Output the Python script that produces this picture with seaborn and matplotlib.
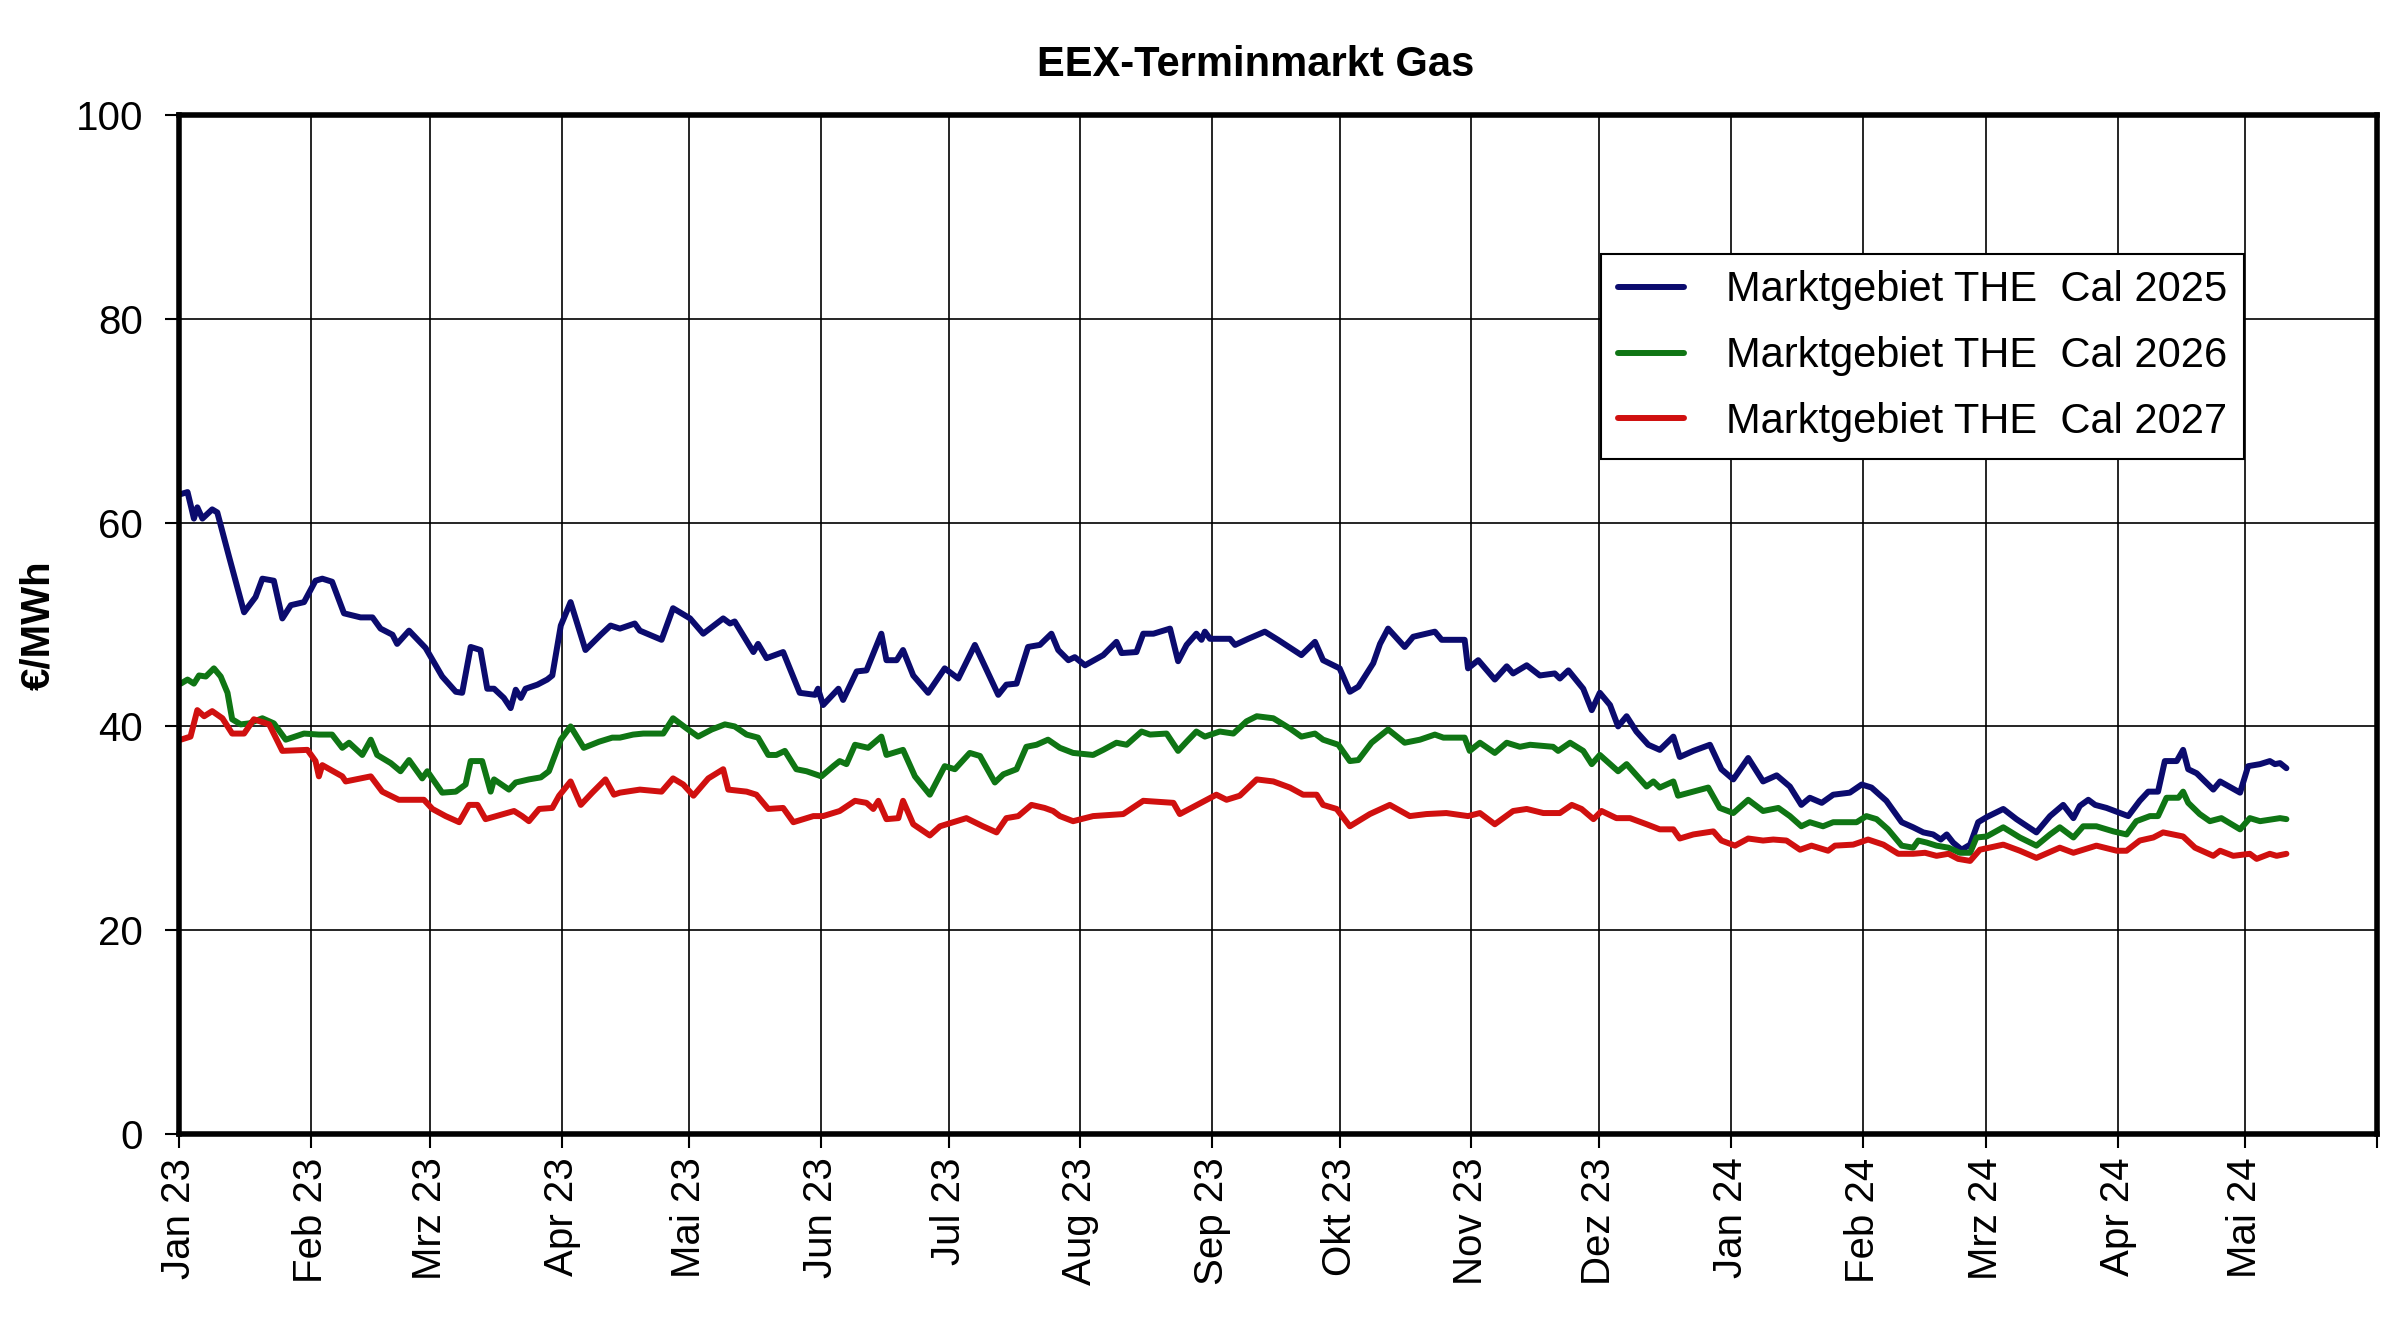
import pandas as pd
import matplotlib.pyplot as plt
import seaborn as sns

# Tage nach dem 01.01.2023 und Preise in EUR/MWh
cal2025_days = [0.4, 2, 3.5, 4.3, 5.5, 7.8, 9, 11.8, 15.3, 18,
                19.6, 22.3, 24.3, 26.3, 29.4, 32.1, 33.7, 36, 38.8, 42.7,
                45.5, 47.4, 50.2, 51.3, 54.1, 58, 61.9, 65.1, 66.6, 68.6,
                70.9, 72.5, 74.1, 76.4, 78, 79.2, 80.4, 81.5, 84.3, 86.6,
                87.8, 89.8, 92.1, 95.6, 99.2, 101.5,
                103.7, 107.2, 108.4, 113.5, 116.2, 120.2, 123.3, 128, 129.6, 130.7,
                135.1, 136.2, 138.2, 142.1, 146, 149.6, 150.3, 151.5, 155.1, 156.2,
                159.4, 161.7, 165.2, 166.4, 168.8, 170.3, 172.7, 176.2, 180.1, 183.3,
                187.2, 192.7, 194.6, 197, 199.7, 202.5, 205.2, 206.8,
                209.2, 210.7, 213.1, 217.4, 220.5, 221.7, 225.2, 226.8, 229.2, 233.1,
                235, 237, 239.3, 240.5, 241.3, 242.5, 247.2, 248.4, 251.5, 255.4,
                258.5, 264, 267.2, 269.1, 273, 275.4, 277.4, 280.9, 282.5, 284.4,
                288.3, 290.3, 295.4, 297, 302.4, 303.2, 305.6, 309.5,
                312.3, 313.8, 317, 320.1, 323.6, 324.8, 326.8, 330.3, 332.3, 334.2,
                336.6, 338.5, 340.5, 342.8, 345.6, 348.3, 351.5, 353, 356.2, 360.1,
                362.8, 365.6, 369.1, 372.6, 375.8, 378.9, 381.6, 383.6, 386.4, 389.1,
                393, 395.8, 398.1, 401.6, 405.2, 407.9, 410.3, 412.6,
                414.4, 415.8, 417.3, 419.3, 421.3, 423.2, 425.2, 429.1, 432.2, 436.9,
                440.1, 443.2, 445.6, 447.1, 449.1, 450.7, 453.4, 458.5, 461.2, 463.2,
                465.5, 467.1, 469.9, 471.4, 472.6, 474.6, 478.5, 480.1, 484.8, 486.7,
                489.5, 491.8, 493, 494.2, 495.7]
cal2025_eur = [62.8, 63.0, 60.4, 61.5, 60.4, 61.3, 61.0, 56.6, 51.2, 52.7,
               54.5, 54.3, 50.6, 51.9, 52.2, 54.3, 54.5, 54.2, 51.1, 50.7,
               50.7, 49.6, 49.0, 48.1, 49.4, 47.7, 44.9, 43.4, 43.3, 47.8,
               47.5, 43.7, 43.7, 42.8, 41.8, 43.6, 42.8, 43.7, 44.1, 44.6,
               45.0, 49.9, 52.2, 47.5, 49.0, 49.9,
               49.6, 50.1, 49.4, 48.5, 51.6, 50.6, 49.1, 50.6, 50.1, 50.3,
               47.3, 48.1, 46.7, 47.3, 43.3, 43.1, 43.7, 42.1, 43.7, 42.6,
               45.4, 45.5, 49.1, 46.5, 46.5, 47.5, 45.0, 43.3, 45.7, 44.7,
               48.0, 43.1, 44.1, 44.2, 47.8, 48.0, 49.1, 47.5,
               46.5, 46.8, 46.0, 47.0, 48.3, 47.2, 47.3, 49.1, 49.1, 49.6,
               46.4, 48.0, 49.1, 48.5, 49.3, 48.6, 48.6, 48.0, 48.6, 49.3,
               48.5, 47.0, 48.3, 46.5, 45.7, 43.4, 43.9, 46.2, 48.1, 49.6,
               47.8, 48.8, 49.3, 48.5, 48.5, 45.7, 46.5, 44.6,
               45.9, 45.2, 46.0, 45.0, 45.2, 44.7, 45.5, 43.7, 41.6, 43.3,
               42.1, 40.0, 41.0, 39.5, 38.2, 37.7, 39.0, 37.0, 37.6, 38.2,
               35.8, 34.8, 36.9, 34.6, 35.2, 34.1, 32.3, 33.0, 32.5, 33.3,
               33.5, 34.3, 34.0, 32.7, 30.6, 30.1, 29.6, 29.4,
               28.9, 29.4, 28.6, 27.9, 28.4, 30.6, 31.1, 31.9, 30.9, 29.6,
               31.2, 32.3, 31.0, 32.2, 32.8, 32.3, 32.0, 31.2, 32.7, 33.6,
               33.6, 36.6, 36.6, 37.7, 35.8, 35.4, 33.8, 34.6, 33.5, 36.1,
               36.3, 36.6, 36.3, 36.4, 35.9]

cal2026_days = [0.4, 2, 3.5, 4.7, 6.3, 8.2, 9.8, 11.4, 12.5, 14.5,
                16.5, 19.6, 22.3, 25.1, 29.4, 32.9, 36, 38.4, 40, 43.1,
                45.1, 46.6, 49.8, 52.1, 54.1, 57.2, 58.4, 61.9, 65.1, 67.4,
                68.6, 71.3, 73.3, 74.1, 77.6, 79.2, 82.3, 85.1, 87, 89.8,
                92.1, 95.2, 98.8, 101.9,
                103.7, 106.8, 109.2, 113.9, 116.2, 119.4, 122.1, 125.3, 128.4, 130.7,
                133.5, 136.2, 138.6, 140.5, 142.5, 145.2, 147.6, 151.1, 153.9, 155.4,
                157, 159, 162.1, 165.2, 166.4, 170.3, 173.1, 176.6, 180.1, 182.5,
                186, 188.4, 191.9, 193.9, 197, 199.3, 201.7, 204.4,
                207.2, 210.3, 215, 217.4, 220.5, 222.9, 226.4, 228.4, 232.3, 235,
                237, 239.3, 241.3, 244.8, 248, 251.1, 253.5, 257.4, 261.3, 264,
                267.2, 269.1, 272.7, 275.4, 277.4, 280.5, 284.4, 288.3, 291.9, 295.4,
                297.4, 302.4, 303.6, 306, 309.5,
                312.3, 315.4, 317.8, 323.2, 324.4, 327.2, 330.3, 332.3, 334.2, 338.5,
                340.5, 345.2, 346.8, 348.3, 351.5, 352.6, 356.2, 359.7, 362.4, 365.6,
                369.1, 372.6, 376.2, 378.9, 381.6, 383.6, 386.7, 389.1, 394.6, 396.9,
                399.3, 402, 405.2, 407.9, 409.1, 411.1, 413.4,
                416.2, 418.9, 421.3, 422.8, 425.2, 429.1, 433, 436.9, 440.1, 442.4,
                445.6, 447.9, 451, 455, 458.1, 460.4, 463.6, 465.5, 467.5, 470.3,
                471.4, 472.6, 475.3, 477.7, 480.4, 484.8, 487.1, 489.5, 492.6, 494.2,
                495.7]
cal2026_eur = [44.2, 44.6, 44.2, 45.0, 44.9, 45.7, 44.9, 43.3, 40.7, 40.2,
               40.3, 40.8, 40.3, 38.7, 39.3, 39.2, 39.2, 37.9, 38.4, 37.2,
               38.7, 37.2, 36.4, 35.6, 36.7, 34.9, 35.6, 33.5, 33.6, 34.3,
               36.6, 36.6, 33.6, 34.8, 33.8, 34.5, 34.8, 35.0, 35.6, 38.7,
               40.0, 37.9, 38.5, 38.9,
               38.9, 39.2, 39.3, 39.3, 40.8, 39.8, 39.0, 39.7, 40.2, 40.0,
               39.2, 38.9, 37.2, 37.2, 37.6, 35.8, 35.6, 35.1, 36.1, 36.6,
               36.3, 38.2, 37.9, 39.0, 37.2, 37.7, 35.1, 33.3, 36.1, 35.8,
               37.4, 37.1, 34.5, 35.3, 35.8, 38.0, 38.2, 38.7,
               37.9, 37.4, 37.2, 37.7, 38.4, 38.2, 39.5, 39.2, 39.3, 37.6,
               38.5, 39.5, 39.0, 39.5, 39.3, 40.5, 41.0, 40.8, 39.8, 39.0,
               39.3, 38.7, 38.2, 36.6, 36.7, 38.4, 39.7, 38.4, 38.7, 39.2,
               38.9, 38.9, 37.6, 38.4, 37.4,
               38.4, 38.0, 38.2, 38.0, 37.6, 38.4, 37.6, 36.3, 37.2, 35.6,
               36.3, 34.1, 34.6, 34.0, 34.6, 33.2, 33.6, 34.0, 32.0, 31.5,
               32.8, 31.7, 32.0, 31.2, 30.2, 30.6, 30.2, 30.6, 30.6, 31.2,
               30.9, 29.9, 28.3, 28.1, 28.8, 28.6, 28.3,
               28.1, 27.6, 27.6, 29.1, 29.2, 30.1, 29.1, 28.3, 29.4, 30.1,
               29.1, 30.2, 30.2, 29.7, 29.4, 30.7, 31.2, 31.2, 33.0, 33.0,
               33.6, 32.5, 31.4, 30.7, 31.0, 29.9, 31.0, 30.7, 30.9, 31.0,
               30.9]

cal2027_days = [0.4, 2.7, 4.3, 5.9, 7.8, 10.2, 12.5, 15.3, 17.6, 21.2,
                24.3, 30.2, 32.1, 32.9, 33.7, 38.4, 39.2, 45.1, 47.8, 51.7,
                57.6, 59.6, 62.7, 65.9, 68.2, 70.2, 72.1, 78.8, 80.7, 82.3,
                84.7, 87.8, 89.4, 92.1, 94.5, 97.2, 100.3, 102.3,
                103.7, 108.4, 113.5, 116.2, 118.6, 121, 124.5, 128, 129.2, 133.5,
                135.8, 138.6, 142.1, 144.5, 149.2, 151.5, 155.4, 159, 161.7, 163.3,
                164.5, 166.4, 169.2, 170.3, 172.7, 176.6, 179, 182.1, 185.2, 189.1,
                192.3, 194.6, 197.4, 200.5, 203.6, 205.6,
                207.2, 210.3, 215, 222.1, 226.8, 233.9, 235.4, 241.7, 244, 246.4,
                249.5, 253.5, 257.4, 261.3, 264.4, 267.6, 269.1, 272.3, 275.4, 280.1,
                284.8, 289.5, 293.4, 298.1, 303.2, 306, 309.5,
                313.8, 317, 320.9, 324.8, 327.6, 329.9, 332.7, 334.6, 338.1, 341.3,
                345.2, 348.3, 351.5, 353, 356.2, 360.9, 362.8, 366, 369.1, 372.6,
                375, 378.1, 381.3, 384, 387.9, 389.5, 393.8, 397.3, 400.9, 404.4,
                407.9, 410.7, 413.4,
                416.2, 418.5, 421.3, 423.6, 429.1, 433, 436.9, 442.4, 445.6, 451,
                455.8, 458.1, 461.2, 464.4, 466.7, 471.4, 474.2, 478.5, 480.1, 483.2,
                487.1, 488.7, 491.8, 493.4, 495.7]
cal2027_eur = [38.7, 39.0, 41.6, 41.0, 41.5, 40.8, 39.3, 39.3, 40.7, 40.2,
               37.6, 37.7, 36.6, 35.1, 36.2, 35.1, 34.6, 35.1, 33.6, 32.8,
               32.8, 31.9, 31.2, 30.6, 32.3, 32.3, 30.9, 31.7, 31.2, 30.7,
               31.9, 32.0, 33.2, 34.6, 32.3, 33.5, 34.8, 33.3,
               33.5, 33.8, 33.6, 34.9, 34.3, 33.2, 34.9, 35.8, 33.8, 33.6,
               33.3, 31.9, 32.0, 30.6, 31.2, 31.2, 31.7, 32.7, 32.5, 31.9,
               32.7, 30.9, 31.0, 32.7, 30.4, 29.3, 30.2, 30.6, 31.0, 30.2,
               29.6, 31.0, 31.2, 32.3, 32.0, 31.7,
               31.2, 30.7, 31.2, 31.4, 32.7, 32.5, 31.4, 32.8, 33.3, 32.8,
               33.2, 34.8, 34.6, 34.0, 33.3, 33.3, 32.3, 31.9, 30.2, 31.4,
               32.3, 31.2, 31.4, 31.5, 31.2, 31.5, 30.4,
               31.7, 31.9, 31.5, 31.5, 32.3, 31.9, 30.9, 31.7, 31.0, 31.0,
               30.4, 29.9, 29.9, 29.0, 29.4, 29.7, 28.8, 28.3, 29.0, 28.8,
               28.9, 28.8, 27.9, 28.3, 27.8, 28.3, 28.4, 28.9, 28.4, 27.5,
               27.5, 27.6, 27.3,
               27.5, 27.0, 26.8, 27.9, 28.4, 27.8, 27.1, 28.1, 27.6, 28.3,
               27.8, 27.8, 28.8, 29.1, 29.6, 29.2, 28.1, 27.3, 27.8, 27.3,
               27.5, 27.0, 27.5, 27.3, 27.5]

series_names = ['Marktgebiet THE  Cal 2025', 'Marktgebiet THE  Cal 2026',
                'Marktgebiet THE  Cal 2027']
series_colors = ['#0b0b6e', '#0f7514', '#d0100f']
month_labels = ['Jan 23', 'Feb 23', 'Mrz 23', 'Apr 23', 'Mai 23', 'Jun 23',
                'Jul 23', 'Aug 23', 'Sep 23', 'Okt 23', 'Nov 23', 'Dez 23',
                'Jan 24', 'Feb 24', 'Mrz 24', 'Apr 24', 'Mai 24', '']

start = pd.Timestamp('2023-01-01')
frames = []
for name, days, vals in zip(series_names,
                            [cal2025_days, cal2026_days, cal2027_days],
                            [cal2025_eur, cal2026_eur, cal2027_eur]):
    frames.append(pd.DataFrame({
        'Datum': start + pd.to_timedelta(days, unit='D'),
        'Preis': vals,
        'Produkt': name,
    }))
df = pd.concat(frames, ignore_index=True)

sns.set_style('white')
plt.rcParams['font.family'] = ['Liberation Sans', 'DejaVu Sans']
plt.rcParams['text.color'] = 'black'
plt.rcParams['xtick.color'] = 'black'
plt.rcParams['ytick.color'] = 'black'

fig, ax = plt.subplots(figsize=(24, 13.24), dpi=100)
fig.subplots_adjust(left=0.0746, right=0.9904, top=0.9131, bottom=0.1435)

sns.lineplot(data=df, x='Datum', y='Preis', hue='Produkt',
             palette=dict(zip(series_names, series_colors)),
             estimator=None, linewidth=4.3, ax=ax)

ax.set_xlim(start, pd.Timestamp('2024-06-01'))
ax.set_ylim(0, 100)
ax.set_yticks(range(0, 101, 20))
ax.set_xticks(pd.date_range('2023-01-01', '2024-06-01', freq='MS'))
ax.set_xticklabels(month_labels, rotation=90, ha='center', va='top')

ax.grid(True, color='black', linewidth=1.2)
ax.set_axisbelow(True)
for spine in ax.spines.values():
    spine.set_visible(True)
    spine.set_color('black')
    spine.set_linewidth(4)

ax.tick_params(axis='both', direction='out', length=10, width=1.5,
               color='black', labelcolor='black', labelsize=29,
               bottom=True, left=True)
ax.tick_params(axis='y', pad=16)
ax.tick_params(axis='x', pad=7)
ax.set_xlabel('')
ax.set_ylabel('')

handles, labels = ax.get_legend_handles_labels()
leg = ax.legend(handles, labels, loc='upper left', bbox_to_anchor=(0.647, 0.864),
                frameon=True, fancybox=False, edgecolor='black', framealpha=1,
                fontsize=30, handlelength=1.6, handletextpad=1.0,
                labelspacing=0.62, borderpad=0.4, borderaxespad=0)
leg.get_frame().set_linewidth(1.5)

fig.text(0.523, 0.951, 'EEX-Terminmarkt Gas', ha='center', va='center',
         fontsize=30, fontweight='bold')
fig.text(0.016, 0.528, '€/MWh', rotation=90, ha='center', va='center',
         fontsize=29, fontweight='bold')

fig.savefig('out.png', dpi=100)
plt.close(fig)
